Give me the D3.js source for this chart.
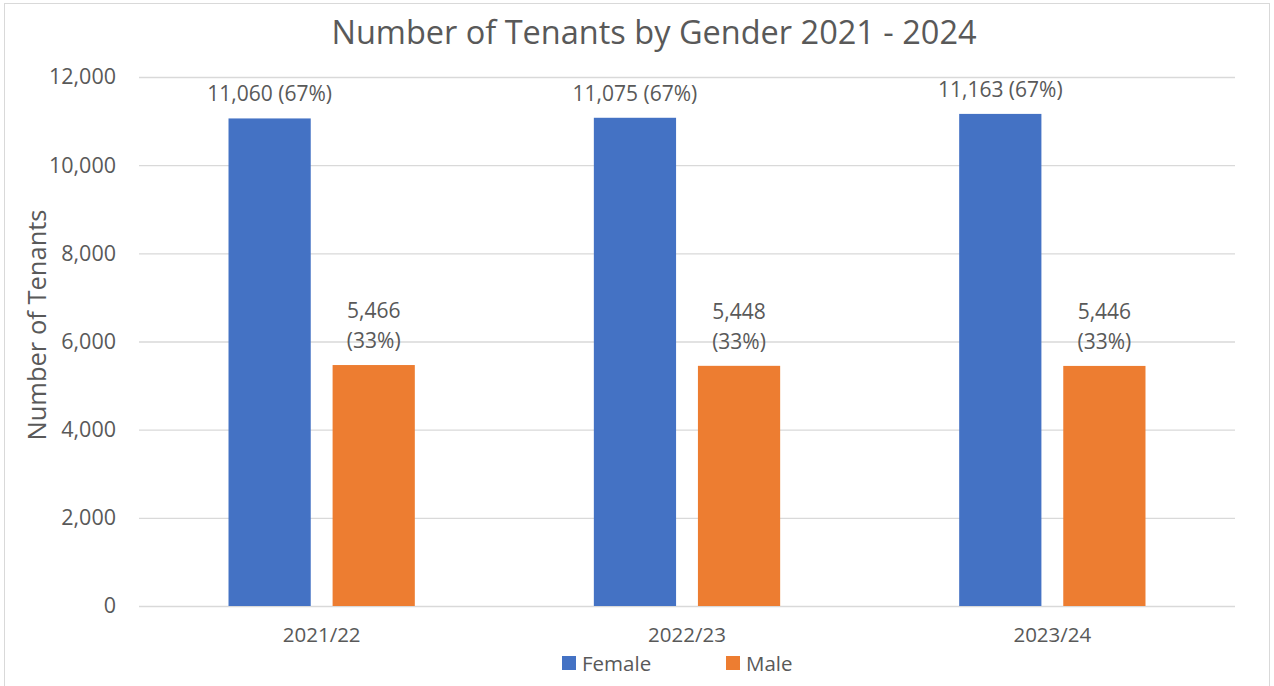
<!DOCTYPE html>
<html>
<head>
<meta charset="utf-8">
<script src="https://cdn.jsdelivr.net/npm/d3@7"></script>
<style>
  body { margin: 0; background: #fff; }
  text { font-family: "Open Sans", sans-serif; fill: #595959; }
</style>
</head>
<body>
<div id="chart"></div>
<script>
// Chart data
var years = ["2021/22", "2022/23", "2023/24"];
var series = ["Female", "Male"];
var female = [11060, 11075, 11163];
var male = [5466, 5448, 5446];
var femalePct = [67, 67, 67];
var malePct = [33, 33, 33];
var yTicks = [0, 2000, 4000, 6000, 8000, 10000, 12000];
var colors = ["#4472C4", "#ED7D31"];

var W = 1274, H = 686;
var margin = { top: 77, right: 39, bottom: 80, left: 139 };
var width = W - margin.left - margin.right;
var height = 606 - margin.top;

var svg = d3.select("#chart").append("svg")
  .attr("width", W)
  .attr("height", H);

// Chart border
svg.append("rect")
  .attr("x", 4.5).attr("y", 3.5)
  .attr("width", 1265).attr("height", H + 10)
  .attr("fill", "none")
  .attr("stroke", "#d9d9d9");

var g = svg.append("g")
  .attr("transform", "translate(" + margin.left + "," + margin.top + ")");

var x0 = d3.scaleBand().domain(years).range([0, width]);
var x1 = d3.scaleBand().domain(series).range([0, x0.bandwidth()])
  .paddingInner(0.21).paddingOuter(0.86);
var y = d3.scaleLinear().domain([0, 12000]).range([height, 0]);

// Gridlines
g.append("g")
  .call(d3.axisLeft(y).tickValues(yTicks).tickSize(-width).tickFormat(""))
  .call(function(a) { a.select(".domain").remove(); })
  .selectAll("line")
  .attr("stroke", "#d9d9d9")
  .attr("stroke-width", 1.3);

// Y axis labels
g.append("g")
  .call(d3.axisLeft(y).tickValues(yTicks).tickSize(0).tickPadding(23).tickFormat(d3.format(",")))
  .call(function(a) { a.select(".domain").remove(); })
  .selectAll("text")
  .style("font-size", "21.5px")
  .style("fill", "#595959");

// X axis labels
g.append("g")
  .attr("transform", "translate(0," + height + ")")
  .call(d3.axisBottom(x0).tickSize(0).tickPadding(21))
  .call(function(a) { a.select(".domain").remove(); })
  .selectAll("text")
  .style("font-size", "20.5px")
  .style("fill", "#595959");

var rows = years.map(function(yr, i) {
  return [
    { year: yr, key: "Female", value: female[i], pct: femalePct[i], color: colors[0] },
    { year: yr, key: "Male", value: male[i], pct: malePct[i], color: colors[1] }
  ];
});

var groups = g.selectAll(".year")
  .data(rows)
  .enter().append("g")
  .attr("class", "year")
  .attr("transform", function(d) { return "translate(" + x0(d[0].year) + ",0)"; });

groups.selectAll("rect")
  .data(function(d) { return d; })
  .enter().append("rect")
  .attr("x", function(d) { return x1(d.key); })
  .attr("y", function(d) { return y(d.value); })
  .attr("width", x1.bandwidth())
  .attr("height", function(d) { return height - y(d.value); })
  .attr("fill", function(d) { return d.color; });

// Data labels
var labels = groups.selectAll(".label")
  .data(function(d) { return d; })
  .enter().append("text")
  .attr("class", "label")
  .attr("text-anchor", "middle")
  .style("font-size", "21px")
  .attr("x", function(d) { return x1(d.key) + x1.bandwidth() / 2; })
  .attr("y", function(d) { return y(d.value) - 17; });

labels.each(function(d) {
  var t = d3.select(this);
  var cx = x1(d.key) + x1.bandwidth() / 2;
  var num = d3.format(",")(d.value);
  if (d.key === "Male") {
    // wrapped label, two lines
    t.append("tspan").attr("x", cx).attr("dy", "-30").text(num);
    t.append("tspan").attr("x", cx).attr("dy", "30").text("(" + d.pct + "%)");
  } else {
    t.text(num + " (" + d.pct + "%)");
  }
});

// Title
svg.append("text")
  .attr("x", 654)
  .attr("y", 44)
  .attr("text-anchor", "middle")
  .style("font-size", "32.5px")
  .text("Number of Tenants by Gender 2021 - 2024");

// Y axis title
svg.append("text")
  .attr("transform", "translate(46,325) rotate(-90)")
  .attr("text-anchor", "middle")
  .style("font-size", "25.5px")
  .text("Number of Tenants");

// Legend
var legendX = [562, 726];
var legend = svg.selectAll(".legend")
  .data(series)
  .enter().append("g")
  .attr("class", "legend")
  .attr("transform", function(d, i) { return "translate(" + legendX[i] + ",656)"; });

legend.append("rect")
  .attr("width", 14).attr("height", 14)
  .attr("fill", function(d, i) { return colors[i]; });

legend.append("text")
  .attr("x", 20).attr("y", 14.5)
  .style("font-size", "20.5px")
  .text(function(d) { return d; });
</script>
</body>
</html>
